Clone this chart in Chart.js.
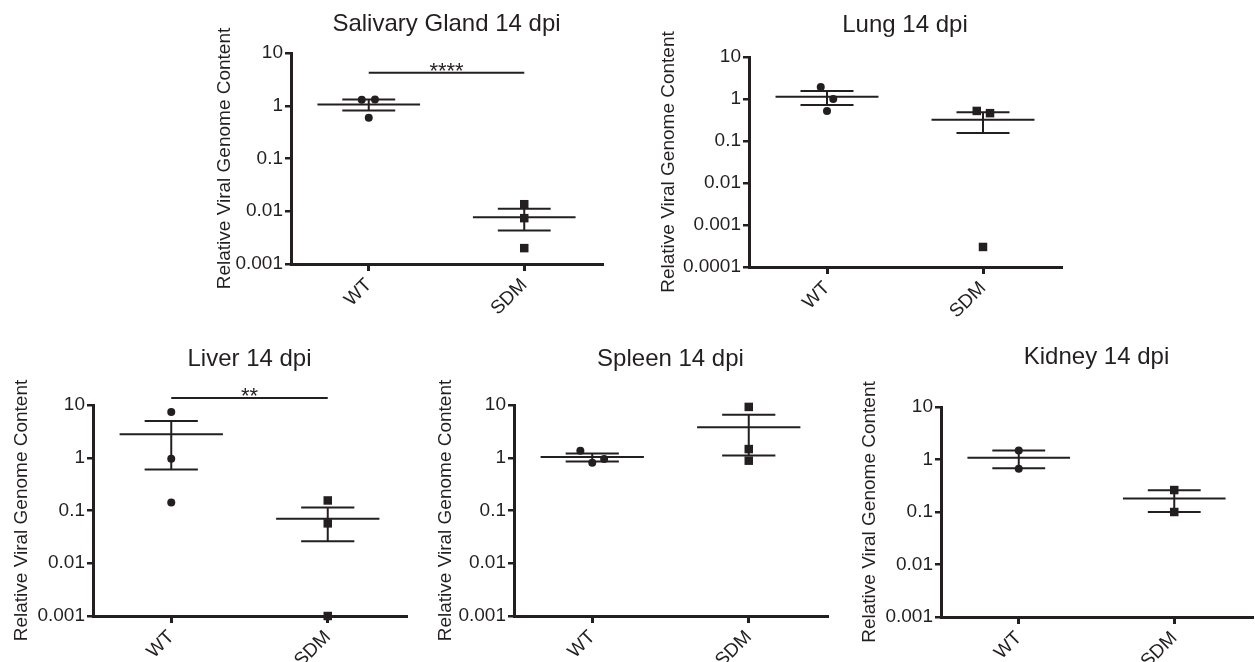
<!DOCTYPE html>
<html>
<head>
<meta charset="utf-8">
<script src="https://cdn.jsdelivr.net/npm/chart.js@4.4.1/dist/chart.umd.min.js"></script>
<style>
  html, body { margin: 0; padding: 0; background: #fff; width: 1255px; height: 662px; overflow: hidden; }
  canvas { position: absolute; }
</style>
</head>
<body>
<canvas id="salivary"></canvas>
<canvas id="lung"></canvas>
<canvas id="liver"></canvas>
<canvas id="spleen"></canvas>
<canvas id="kidney"></canvas>
<script>
// categories and axis ticks
const groups = ['WT', 'SDM'];
const yTicks = [0.001, 0.01, 0.1, 1, 10];
const yTickLabels = ['0.001', '0.01', '0.1', '1', '10'];
const yTicksLung = [0.0001, 0.001, 0.01, 0.1, 1, 10];
const yTickLabelsLung = ['0.0001', '0.001', '0.01', '0.1', '1', '10'];

// values (individual animals, mean, SEM)
const salivaryWT = [1.3, 1.32, 0.59];
const salivarySDM = [0.0136, 0.0074, 0.002];
const salivaryMean = [1.06, 0.0077];
const salivarySEM = [0.25, 0.0034];

const lungWT = [1.93, 1.0, 0.52];
const lungSDM = [0.52, 0.46, 0.0003];
const lungMean = [1.13, 0.32];
const lungSEM = [0.41, 0.165];

const liverWT = [7.4, 0.96, 0.142];
const liverSDM = [0.155, 0.057, 0.001];
const liverMean = [2.8, 0.07];
const liverSEM = [2.2, 0.044];

const spleenWT = [1.36, 0.8, 0.95];
const spleenSDM = [9.2, 1.46, 0.88];
const spleenMean = [1.03, 3.8];
const spleenSEM = [0.18, 2.7];

const kidneyWT = [1.48, 0.67];
const kidneySDM = [0.262, 0.1];
const kidneyMean = [1.08, 0.18];
const kidneySEM = [0.4, 0.08];

// horizontal scatter of the dots (category units)
const salivaryJitterWT = [-0.045, 0.04, 0];
const lungJitterWT = [-0.04, 0.04, 0];
const lungJitterSDM = [-0.04, 0.045, 0];
const spleenJitterWT = [-0.076, 0, 0.076];

const INK = '#231f20';
const FONT = '"Liberation Sans", Arial, Helvetica, sans-serif';
const Y_W = 95;      // width reserved for the y axis
const X_H = 60;      // height reserved for the x axis
const TITLE_LH = 30;
const MEAN_HALF = 0.33;
const CAP_HALF = 0.17;

Chart.defaults.font.family = FONT;
Chart.defaults.color = INK;

// stars over the significance bar
const sigPlugin = {
    id: 'sig',
    afterDatasetsDraw(chart, args, opts) {
        if (!opts.text) return;
        const ctx = chart.ctx;
        ctx.save();
        ctx.font = '22px ' + FONT;
        ctx.fillStyle = INK;
        ctx.textAlign = 'center';
        ctx.textBaseline = 'alphabetic';
        ctx.fillText(opts.text, chart.scales.x.getPixelForValue(1.5), chart.scales.y.getPixelForValue(opts.y) + 5);
        ctx.restore();
    }
};

function seg(x1, y1, x2, y2, w) {
    return {
        data: [{ x: x1, y: y1 }, { x: x2, y: y2 }],
        showLine: true,
        borderColor: INK,
        borderWidth: w || 2,
        pointRadius: 0,
        clip: false
    };
}

function makePanel(id, p) {
    const canvas = document.getElementById(id);
    canvas.width = Y_W + p.plotW + 3;
    canvas.height = TITLE_LH + p.titleGap + p.plotH + X_H;
    canvas.style.left = (p.left - Y_W) + 'px';
    canvas.style.top = (p.top - TITLE_LH - p.titleGap) + 'px';

    const jw = p.jitterWT || p.wt.map(() => 0);
    const js = p.jitterSDM || p.sdm.map(() => 0);

    const datasets = [
        {
            data: p.wt.map((v, i) => ({ x: 1 + jw[i], y: v })),
            pointStyle: 'circle', pointRadius: 4, pointBorderWidth: 0,
            backgroundColor: INK, clip: false
        },
        {
            data: p.sdm.map((v, i) => ({ x: 2 + js[i], y: v })),
            pointStyle: 'rect', pointRadius: 6, pointBorderWidth: 0,
            backgroundColor: INK, clip: false
        }
    ];
    for (let g = 0; g < 2; g++) {
        const x = g + 1;
        const m = p.mean[g];
        const hi = m + p.sem[g];
        const lo = m - p.sem[g];
        datasets.push(seg(x - MEAN_HALF, m, x + MEAN_HALF, m, 2));
        datasets.push(seg(x - CAP_HALF, hi, x + CAP_HALF, hi, 2));
        datasets.push(seg(x - CAP_HALF, lo, x + CAP_HALF, lo, 2));
        datasets.push(seg(x, lo, x, hi, 2));
    }
    if (p.sigText) datasets.push(seg(1, p.sigY, 2, p.sigY, 2));

    new Chart(canvas, {
        type: 'scatter',
        data: { datasets: datasets },
        options: {
            responsive: false,
            animation: false,
            events: [],
            layout: { padding: { left: 0, right: 3, top: 0, bottom: 0 } },
            plugins: {
                legend: { display: false },
                tooltip: { enabled: false },
                title: {
                    display: true,
                    text: p.title,
                    fullSize: false,
                    color: INK,
                    font: { size: 24, weight: 'normal', lineHeight: TITLE_LH / 24 },
                    padding: { top: 0, bottom: p.titleGap }
                },
                sig: { text: p.sigText, y: p.sigY }
            },
            scales: {
                x: {
                    type: 'linear',
                    min: 0.5,
                    max: 2.5,
                    afterBuildTicks: s => { s.ticks = [{ value: 1 }, { value: 2 }]; },
                    afterFit: s => { s.height = X_H; },
                    grid: { drawOnChartArea: false, drawTicks: true, tickLength: 7, color: INK, lineWidth: 3 },
                    border: { display: true, color: INK, width: 3 },
                    ticks: {
                        autoSkip: false, minRotation: 45, maxRotation: 45, padding: 3,
                        font: { size: 19 }, color: INK,
                        callback: (v, i) => groups[i]
                    }
                },
                y: {
                    type: 'logarithmic',
                    min: p.ticks[0],
                    max: p.ticks[p.ticks.length - 1],
                    afterBuildTicks: s => { s.ticks = p.ticks.map(v => ({ value: v })); },
                    afterFit: s => { s.width = Y_W; },
                    grid: { drawOnChartArea: false, drawTicks: true, tickLength: 6, color: INK, lineWidth: 2.5 },
                    border: { display: true, color: INK, width: 3 },
                    ticks: {
                        autoSkip: false, padding: 2,
                        font: { size: 19 }, color: INK,
                        callback: (v, i) => p.tickLabels[i]
                    },
                    title: {
                        display: true,
                        text: 'Relative Viral Genome Content',
                        color: INK,
                        font: { size: 19, lineHeight: 1.2 },
                        padding: { top: Y_W - p.yTitleOffset - 11.4, bottom: 0 }
                    }
                }
            }
        },
        plugins: [sigPlugin]
    });
}

makePanel('salivary', {
    title: 'Salivary Gland 14 dpi', left: 291, top: 53, plotW: 314, plotH: 211, titleGap: 14,
    yTitleOffset: 66, ticks: yTicks, tickLabels: yTickLabels,
    wt: salivaryWT, sdm: salivarySDM, mean: salivaryMean, sem: salivarySEM,
    jitterWT: salivaryJitterWT, sigText: '****', sigY: 4.2
});
makePanel('lung', {
    title: 'Lung 14 dpi', left: 749, top: 57, plotW: 315, plotH: 210, titleGap: 17,
    yTitleOffset: 80, ticks: yTicksLung, tickLabels: yTickLabelsLung,
    wt: lungWT, sdm: lungSDM, mean: lungMean, sem: lungSEM,
    jitterWT: lungJitterWT, jitterSDM: lungJitterSDM
});
makePanel('liver', {
    title: 'Liver 14 dpi', left: 93, top: 405, plotW: 316, plotH: 211, titleGap: 31,
    yTitleOffset: 71, ticks: yTicks, tickLabels: yTickLabels,
    wt: liverWT, sdm: liverSDM, mean: liverMean, sem: liverSEM,
    sigText: '**', sigY: 13.6
});
makePanel('spleen', {
    title: 'Spleen 14 dpi', left: 514, top: 405, plotW: 316, plotH: 211, titleGap: 31,
    yTitleOffset: 68, ticks: yTicks, tickLabels: yTickLabels,
    wt: spleenWT, sdm: spleenSDM, mean: spleenMean, sem: spleenSEM,
    jitterWT: spleenJitterWT
});
makePanel('kidney', {
    title: 'Kidney 14 dpi', left: 941, top: 407, plotW: 314, plotH: 210, titleGap: 35,
    yTitleOffset: 71, ticks: yTicks, tickLabels: yTickLabels,
    wt: kidneyWT, sdm: kidneySDM, mean: kidneyMean, sem: kidneySEM
});
</script>
</body>
</html>
